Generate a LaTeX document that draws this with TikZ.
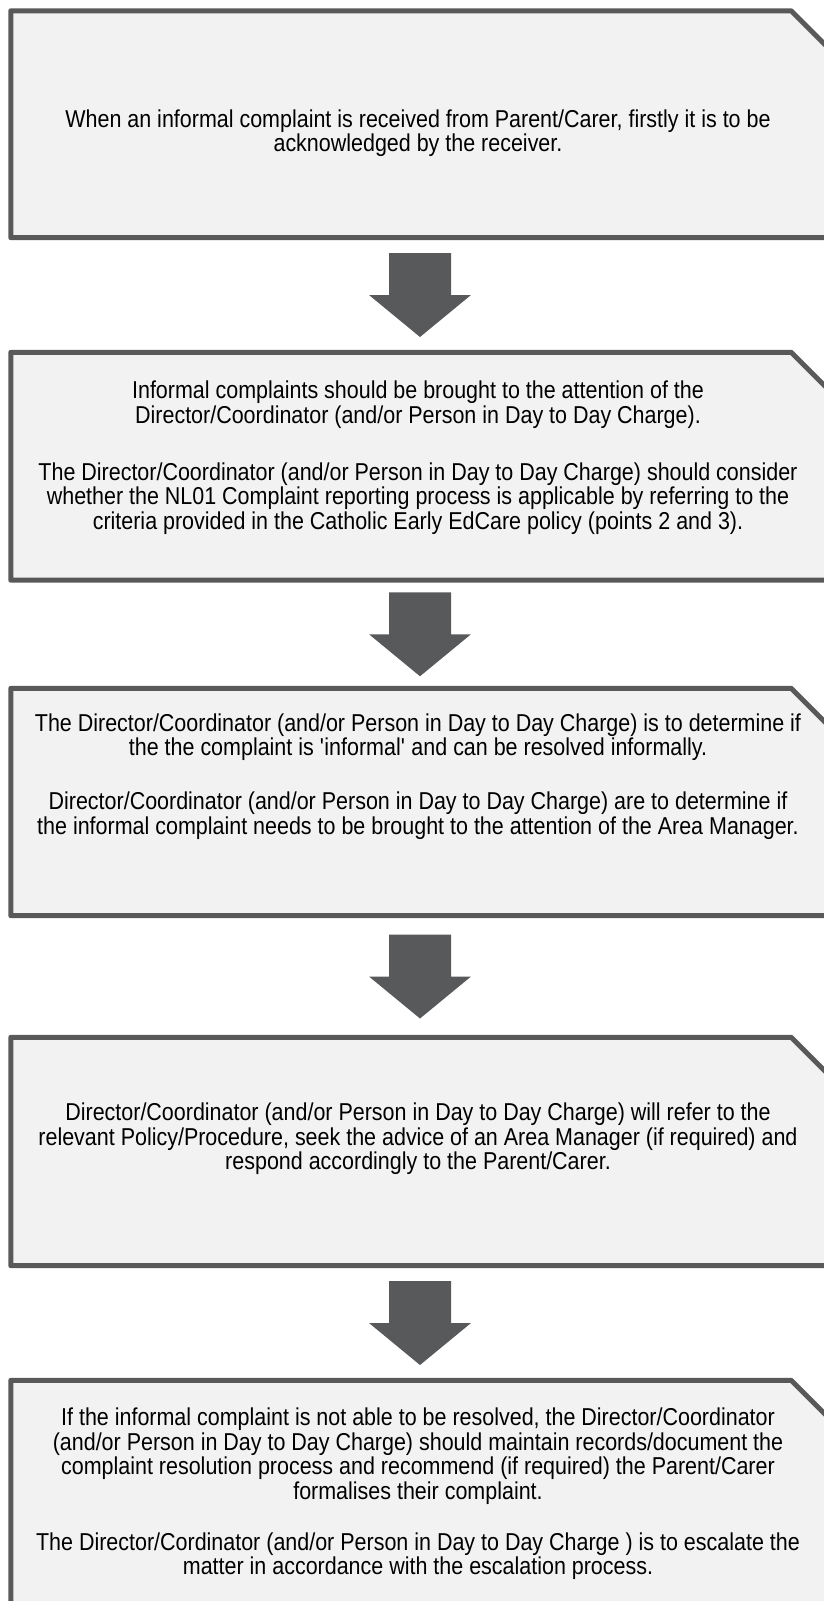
\documentclass[tikz,border=0pt]{standalone}
\usepackage{fontspec}
\setmainfont{Liberation Sans}[FakeStretch=0.88]
\definecolor{edgecol}{HTML}{595959}
\definecolor{boxfill}{HTML}{F2F2F2}
\definecolor{arrowcol}{HTML}{58595B}
\newcommand\flowarrowdown[1]{%
  \fill[arrowcol] ([shift={(-31pt,42pt)}]#1) -- ([shift={(31pt,42pt)}]#1)
    -- ([shift={(31pt,0pt)}]#1) -- ([shift={(51pt,0pt)}]#1)
    -- ([shift={(0pt,-42pt)}]#1) -- ([shift={(-51pt,0pt)}]#1)
    -- ([shift={(-31pt,0pt)}]#1) -- cycle;}
\newcommand\snipbox[1]{%
  \draw[boxline] (#1.south west) -- (#1.north west) -- ([xshift=-38pt]#1.north east)
    -- ([yshift=-38pt]#1.north east) -- (#1.south east) -- cycle;}
\begin{document}
\begin{tikzpicture}[x=1pt,y=-1pt,
  boxline/.style={draw=edgecol,fill=boxfill,line width=5pt,line join=round},
  boxnode/.style={rectangle,inner sep=0pt,minimum width=818pt},
  txt/.style={align=center,inner sep=0pt,text=black,font=\fontsize{24.4}{24.5}\selectfont}]
\useasboundingbox (0,0) rectangle (824,1601);
\clip (0,0) rectangle (824,1601);
\node[boxnode,minimum height=226.5pt] (b1) at (420,124.25) {};
\node[boxnode,minimum height=227.5pt] (b2) at (420,466.25) {};
\node[boxnode,minimum height=227pt] (b3) at (420,802) {};
\node[boxnode,minimum height=228pt] (b4) at (420,1151.5) {};
\node[boxnode,minimum height=227pt] (b5) at (420,1494) {};
\snipbox{b1}
\snipbox{b2}
\snipbox{b3}
\snipbox{b4}
\snipbox{b5}
\path (b1.south) -- (b2.north) coordinate[midway] (m1);
\path (b2.south) -- (b3.north) coordinate[midway] (m2);
\path (b3.south) -- (b4.north) coordinate[midway] (m3);
\path (b4.south) -- (b5.north) coordinate[midway] (m4);
\flowarrowdown{m1}
\flowarrowdown{m2}
\flowarrowdown{m3}
\flowarrowdown{m4}
\node[txt] (t1) at (418,133) {When an informal complaint is received from Parent/Carer, firstly it is to be\\acknowledged by the receiver.};
\node[txt] (t2) at (418,457.7) {Informal complaints should be brought to the attention of the\\Director/Coordinator (and/or Person in Day to Day Charge).\\[32.5pt]The Director/Coordinator (and/or Person in Day to Day Charge) should consider\\whether the NL01 Complaint reporting process is applicable by referring to the\\criteria provided in the Catholic Early EdCare policy (points 2 and 3).};
\node[txt] (t3) at (418,776.3) {The Director/Coordinator (and/or Person in Day to Day Charge) is to determine if\\the the complaint is \textquotesingle informal\textquotesingle{} and can be resolved informally.\\[29.6pt]Director/Coordinator (and/or Person in Day to Day Charge) are to determine if\\the informal complaint needs to be brought to the attention of the Area Manager.};
\node[txt] (t4) at (418,1139) {Director/Coordinator (and/or Person in Day to Day Charge) will refer to the\\relevant Policy/Procedure, seek the advice of an Area Manager (if required) and\\respond accordingly to the Parent/Carer.};
\node[txt] (t5) at (418,1493.7) {If the informal complaint is not able to be resolved, the Director/Coordinator\\(and/or Person in Day to Day Charge) should maintain records/document the\\complaint resolution process and recommend (if required) the Parent/Carer\\formalises their complaint.\\[26.5pt]The Director/Cordinator (and/or Person in Day to Day Charge ) is to escalate the\\matter in accordance with the escalation process.};
\end{tikzpicture}
\end{document}
